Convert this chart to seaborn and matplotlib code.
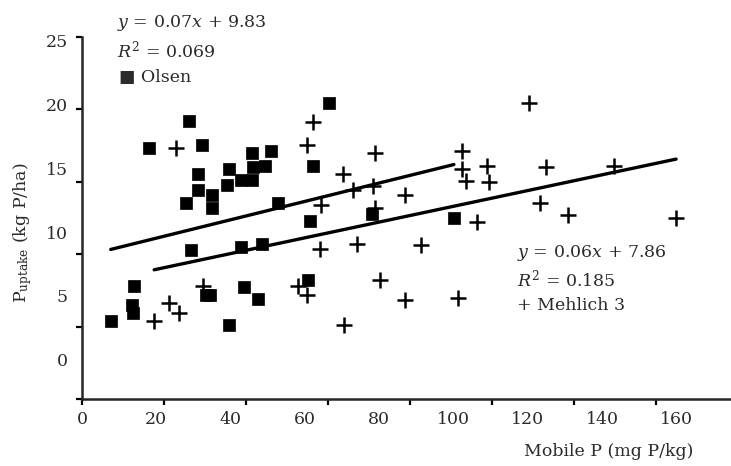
import numpy as np
import pandas as pd
import matplotlib
matplotlib.use("Agg")
import matplotlib.pyplot as plt
import seaborn as sns

# ---------------- data ----------------
olsen_x = [7.0, 12.1, 12.5, 12.8, 16.4, 25.4, 26.1, 26.6, 28.3, 28.4, 29.2, 30.2,
           31.1, 31.6, 31.6, 35.3, 35.9, 35.9, 38.9, 41.4, 38.9, 39.4, 41.4, 41.8,
           42.9, 44.0, 44.6, 46.1, 47.9, 55.2, 55.6, 56.4, 60.2, 70.7, 90.7]
olsen_y = [5.4, 6.5, 5.9, 7.8, 17.3, 13.5, 19.2, 10.3, 14.4, 15.5, 17.5, 7.2,
           7.2, 14.1, 13.2, 14.8, 15.9, 5.1, 15.1, 15.1, 10.5, 7.75, 17.0, 16.0,
           6.9, 10.7, 16.1, 17.1, 13.5, 8.2, 12.3, 16.1, 20.45, 12.8, 12.5]

mehlich_x = [17.6, 21.2, 23.7, 29.6, 22.9, 56.4, 54.8, 58.3, 71.5, 63.7, 66.0, 70.9,
             78.8, 71.5, 92.6, 92.8, 98.9, 93.7, 99.3, 96.3, 58.0, 67.1, 82.8, 52.6,
             54.8, 72.8, 78.8, 91.8, 63.9, 109.0, 113.1, 129.8, 111.7, 118.6, 144.9]
mehlich_y = [5.4, 6.6, 5.9, 7.8, 17.3, 19.1, 17.5, 13.4, 17.0, 15.5, 14.4, 14.7,
             14.1, 13.2, 17.1, 15.9, 16.1, 15.05, 15.0, 12.2, 10.35, 10.7, 10.6, 7.8,
             7.2, 8.2, 6.8, 7.0, 5.1, 20.45, 16.0, 16.1, 13.5, 12.7, 12.5]

olsen_fit = (0.07, 9.83)      # slope, intercept
mehlich_fit = (0.06, 7.86)
olsen_r2 = 0.069
mehlich_r2 = 0.185

x_ticks = [0, 20, 40, 60, 80, 100, 120, 140, 160]
y_ticks = [0, 5, 10, 15, 20, 25]

# ---------------- style ----------------
sns.set_theme(style="ticks")
plt.rcParams['font.family'] = ['DejaVu Serif']
plt.rcParams['mathtext.fontset'] = 'custom'
plt.rcParams['mathtext.rm'] = 'DejaVu Serif'
plt.rcParams['mathtext.it'] = 'DejaVu Serif:italic'
TXT = '#2b2b2b'
FS = 12.5

fig = plt.figure(figsize=(7.31, 4.66), dpi=100)
ax = fig.add_axes([82/731, 67/466, 1 - 82/731, (399 - 36.7)/466])

df_o = pd.DataFrame({'x': olsen_x, 'y': olsen_y})
df_m = pd.DataFrame({'x': mehlich_x, 'y': mehlich_y})

sns.scatterplot(data=df_o, x='x', y='y', marker='s', s=68, color='black',
                edgecolor='black', linewidth=0.5, ax=ax, zorder=3)
sns.scatterplot(data=df_m, x='x', y='y', marker='+', s=120, color='black',
                linewidth=1.8, ax=ax, zorder=3)

# regression lines over each series' x range
for xs, (b, a) in ((olsen_x, olsen_fit), (mehlich_x, mehlich_fit)):
    lx = np.array([min(xs), max(xs)])
    sns.lineplot(x=lx, y=b * lx + a, color='black', linewidth=2.4, ax=ax, zorder=2)

ax.set_xlim(0, (731 - 82) / 4.1)
ax.set_ylim(0, 25)
ax.set_xticks([t for t in x_ticks if t <= (731 - 82) / 4.1])
ax.set_yticks(y_ticks)
ax.set_xticklabels([])
ax.set_yticklabels([])
ax.set_xlabel('')
ax.set_ylabel('')
for s in ('top', 'right'):
    ax.spines[s].set_visible(False)
for s in ('left', 'bottom'):
    ax.spines[s].set_linewidth(1.8)
ax.tick_params(axis='both', length=4.5, width=1.6, color='black')

# tick labels (drawn at their positions in the reference)
for v in x_ticks:
    ax.annotate(str(v), xy=(v * 74.3 / 82, 0), xycoords=('data', 'axes fraction'),
                xytext=(0, -9), textcoords='offset points', ha='center', va='top',
                fontsize=FS, color=TXT)
for v in y_ticks:
    ax.annotate(str(v), xy=(0, 2.574 + 0.8806 * v), xycoords=('axes fraction', 'data'),
                xytext=(-10, 0), textcoords='offset points', ha='right', va='center',
                fontsize=FS, color=TXT)

fig.text(23/731, 1 - 233/466, r'P$_{\mathrm{uptake}}$ (kg P/ha)', rotation=90,
         ha='center', va='center', fontsize=FS, color=TXT)
fig.text(609/731, 1 - 452/466, 'Mobile P (mg P/kg)', ha='center', va='center',
         fontsize=FS, color=TXT)

# annotations
fig.text(117/731, 1 - 23/466, r'$y$ = %.2f$x$ + %.2f' % olsen_fit, ha='left', va='center',
         fontsize=FS, color=TXT)
fig.text(117/731, 1 - 50/466, r'$R^{2}$ = %.3f' % olsen_r2, ha='left', va='center',
         fontsize=FS, color=TXT)
fig.text(119/731, 1 - 77/466, '■ Olsen', ha='left', va='center', fontsize=FS, color=TXT)

fig.text(517/731, 1 - 253/466, r'$y$ = %.2f$x$ + %.2f' % mehlich_fit, ha='left', va='center',
         fontsize=FS, color=TXT)
fig.text(517/731, 1 - 279/466, r'$R^{2}$ = %.3f' % mehlich_r2, ha='left', va='center',
         fontsize=FS, color=TXT)
fig.text(517/731, 1 - 305/466, '+ Mehlich 3', ha='left', va='center', fontsize=FS, color=TXT)

fig.savefig('out.png', dpi=100)
